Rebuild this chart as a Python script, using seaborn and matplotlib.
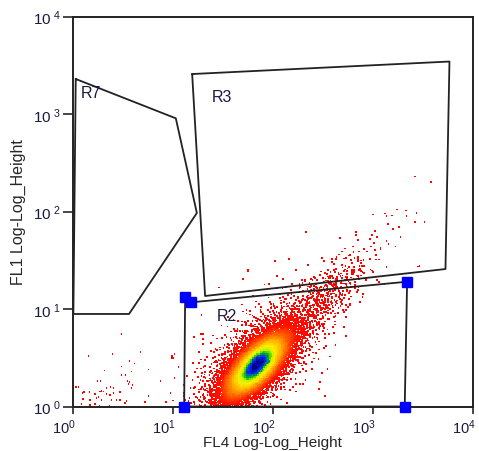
import numpy as np
import pandas as pd
import matplotlib
matplotlib.use("Agg")
import matplotlib.pyplot as plt
from matplotlib.colors import LinearSegmentedColormap
from matplotlib.ticker import LogLocator, NullLocator, FuncFormatter
from matplotlib.transforms import ScaledTranslation
import seaborn as sns

# ---- Event populations (positions in decades, log10 of channel height) ----
pop_fl4_center = [1.84, 1.86, 2.50]
pop_fl1_center = [0.42, 0.50, 1.10]
pop_sd_major = [0.27, 0.42, 0.30]
pop_sd_minor = [0.11, 0.20, 0.11]
pop_angle_deg = [47, 45, 40]
pop_events = [6500, 1400, 420]

# ---- Isolated events (decades) ----
sparse_fl4 = [0.49, 0.16, 0.40, 0.68, 0.99, 1.00, 0.49, 0.57, 0.62, 0.32, 0.76, 0.59,
              0.53, 0.49, 0.25, 0.28, 0.55, 0.57, 0.60, 0.56, 0.88, 0.035, 0.06, 0.34,
              0.38, 0.41, 0.59, 0.115, 0.10, 0.275, 0.29, 0.31, 0.17, 0.225, 0.34, 0.41,
              0.475, 0.26, 0.375, 0.108, 0.175, 0.24, 0.29, 0.39, 0.44, 0.475, 0.54, 0.725,
              0.76, 0.935, 0.09, 0.225, 0.175, 0.27, 0.37, 0.525, 0.99, 1.30, 1.305,
              2.525, 2.275,
              3.42, 3.58, 3.24, 3.33, 3.435, 3.00, 3.12, 3.135, 3.19, 3.335, 3.42, 3.515,
              3.15, 3.26, 3.20, 3.025, 2.83, 2.335, 2.835, 2.99, 3.275, 2.67, 3.04, 2.975,
              2.85, 3.135, 3.015, 2.98, 2.80, 2.72, 3.075, 3.225, 2.91, 2.86, 2.94, 2.775,
              3.03, 2.495, 2.16, 2.59, 2.735, 2.85, 2.88, 2.975, 2.66, 2.79, 2.61, 2.69,
              2.76, 3.135, 3.45, 2.635, 2.71, 2.81, 2.54, 2.85, 2.64, 2.575, 2.475, 2.325,
              2.41, 2.74, 2.875, 2.77, 2.02, 1.75, 1.70, 1.46, 1.75, 3.465, 2.87]
sparse_fl1 = [0.74, 0.52, 0.54, 0.56, 0.52, 0.50, 0.41, 0.47, 0.44, 0.37, 0.38, 0.36,
              0.32, 0.32, 0.26, 0.26, 0.26, 0.25, 0.22, 0.23, 0.26, 0.20, 0.20, 0.19,
              0.20, 0.19, 0.19, 0.145, 0.135, 0.155, 0.16, 0.155, 0.145, 0.128, 0.128, 0.135,
              0.145, 0.094, 0.118, 0.077, 0.07, 0.084, 0.07, 0.067, 0.07, 0.067, 0.06, 0.05,
              0.11, 0.05, 0.026, 0.026, 0.015, 0.008, 0.002, 0.036, 0.50, 0.69, 0.74,
              0.11, 0.23,
              2.36, 2.30, 2.02, 2.01, 1.985, 1.97, 1.98, 1.95, 1.96, 1.95, 1.89, 1.89,
              1.87, 1.84, 1.82, 1.80, 1.79, 1.79, 1.76, 1.76, 1.74, 1.725, 1.735, 1.72,
              1.71, 1.695, 1.675, 1.64, 1.64, 1.62, 1.615, 1.64, 1.615, 1.59, 1.59, 1.555,
              1.555, 1.52, 1.51, 1.51, 1.52, 1.51, 1.47, 1.51, 1.56, 1.47, 1.46, 1.45,
              1.43, 1.43, 1.435, 1.41, 1.39, 1.38, 1.36, 1.34, 1.325, 1.335, 1.35, 1.30,
              1.325, 1.31, 1.075, 1.04, 1.49, 1.40, 1.31, 1.22, 1.39, 1.44, 1.41]

# ---- Gate regions (channel units) ----
r7_fl4 = [1.077, 10.76, 17.46, 3.67, 1.02]
r7_fl1 = [2286, 903, 96.5, 8.89, 8.89]
r3_fl4 = [15.67, 5821, 5309, 21.1]
r3_fl1 = [2570, 3453, 25.7, 13.6]
r2_fl4 = [13.03, 13.34, 15.2, 2198, 2080]
r2_fl1 = [1.0, 13.2, 11.7, 19.05, 1.0]
gate_names = ["R7", "R3", "R2"]
gate_label_fl4 = [1.52, 31.3, 34.8]
gate_label_fl1 = [1675, 1514, 8.67]

# axis decades
x_limits = (1, 1e4)
y_limits = (1, 1e4)


def halton(n, base):
    seq = np.empty(n)
    for i in range(n):
        f, r, k = 1.0, 0.0, i + 1
        while k > 0:
            f /= base
            r += f * (k % base)
            k //= base
        seq[i] = r
    return seq


def population(cx, cy, sd_a, sd_b, ang, n, b1, b2):
    u1 = halton(n, b1)
    u2 = halton(n, b2)
    rad = np.sqrt(-2.0 * np.log(1.0 - u1))
    th = 2 * np.pi * u2
    a = rad * np.cos(th) * sd_a
    b = rad * np.sin(th) * sd_b
    t = np.deg2rad(ang)
    return cx + a * np.cos(t) - b * np.sin(t), cy + a * np.sin(t) + b * np.cos(t)


bases = [(2, 3), (5, 7), (11, 13)]
lx_parts, ly_parts = [], []
for i in range(len(pop_events)):
    px, py = population(pop_fl4_center[i], pop_fl1_center[i], pop_sd_major[i],
                        pop_sd_minor[i], pop_angle_deg[i], pop_events[i], *bases[i])
    lx_parts.append(px)
    ly_parts.append(py)
lx_parts.append(np.array(sparse_fl4))
ly_parts.append(np.array(sparse_fl1))
lx = np.concatenate(lx_parts)
ly = np.concatenate(ly_parts)

# local event density on a fine grid, smoothed with a small box kernel
bw = 0.02
edges = np.arange(-0.5, 4.5 + bw, bw)
H, _, _ = np.histogram2d(lx, ly, bins=[edges, edges])
k = 5
kern = np.ones(k) / k
H = np.apply_along_axis(lambda v: np.convolve(v, kern, mode="same"), 0, H)
H = np.apply_along_axis(lambda v: np.convolve(v, kern, mode="same"), 1, H)
ix = np.clip(((lx - edges[0]) / bw).astype(int), 0, H.shape[0] - 1)
iy = np.clip(((ly - edges[0]) / bw).astype(int), 0, H.shape[1] - 1)
dens = H[ix, iy]
dens = dens / dens.max()

df = pd.DataFrame({"FL4": 10 ** lx, "FL1": 10 ** ly, "density": np.clip(dens, 0, 1)})
df = df.sort_values("density")

cmap = LinearSegmentedColormap.from_list(
    "events",
    [(0.0, "#ff0000"), (0.2, "#ff1000"), (0.36, "#ff6000"), (0.54, "#ffb000"),
     (0.7, "#ffee00"), (0.8, "#c0f000"), (0.87, "#00c000"), (0.92, "#0040ff"),
     (1.0, "#000090")])

sns.set_style("white")
plt.rcParams["font.family"] = ["Liberation Sans", "DejaVu Sans"]
plt.rcParams["mathtext.fontset"] = "custom"
plt.rcParams["mathtext.rm"] = "Liberation Sans"
plt.rcParams["mathtext.it"] = "Liberation Sans:italic"
plt.rcParams["mathtext.bf"] = "Liberation Sans:bold"

fig = plt.figure(figsize=(4.79, 4.52), dpi=100)
ax = fig.add_axes([72.5 / 479, 1 - 407.5 / 452, 400.5 / 479, 390 / 452])

sns.scatterplot(data=df, x="FL4", y="FL1", hue="density", palette=cmap,
                hue_norm=(0, 1), legend=False, marker="s", s=1.6,
                linewidth=0, ax=ax)

ax.set_xscale("log")
ax.set_yscale("log")
ax.set_xlim(*x_limits)
ax.set_ylim(*y_limits)

gate_color = "#222222"
for gx, gy in [(r7_fl4, r7_fl1), (r3_fl4, r3_fl1), (r2_fl4, r2_fl1)]:
    ax.plot(gx + gx[:1], gy + gy[:1], color=gate_color, lw=1.3, zorder=4,
            clip_on=False)
ax.plot(r2_fl4, r2_fl1, linestyle="none", marker="s", markersize=6.5,
        color="#0000ff", zorder=5, clip_on=False)

for name, gx, gy in zip(gate_names, gate_label_fl4, gate_label_fl1):
    ax.text(gx, gy, name, ha="center", va="center", fontsize=11.5,
            color="#1a1a40", zorder=6)

ax.xaxis.set_major_locator(LogLocator(base=10, numticks=10))
ax.yaxis.set_major_locator(LogLocator(base=10, numticks=10))
ax.xaxis.set_minor_locator(NullLocator())
ax.yaxis.set_minor_locator(NullLocator())
ax.xaxis.set_major_formatter(FuncFormatter(lambda v, p: r"$10^{%d}$" % round(np.log10(v))))
ax.yaxis.set_major_formatter(FuncFormatter(lambda v, p: r"$10^{\ %d}$" % round(np.log10(v))))
ax.tick_params(axis="x", direction="out", length=5, width=1.2, pad=2.5,
               labelsize=10.5, bottom=True, labelcolor="#1a1a40")
ax.tick_params(axis="y", direction="out", length=7, width=1.2, pad=1.5,
               labelsize=11, left=True, labelcolor="#1a1a40")
for sp in ax.spines.values():
    sp.set_color("#222222")
    sp.set_linewidth(1.4)

ax.set_xlabel("FL4 Log-Log_Height", fontsize=11, labelpad=-0.5)
ax.set_ylabel("FL1 Log-Log_Height", fontsize=11.5, labelpad=5)

fig.canvas.draw()
shift = ScaledTranslation(3 / 100, 0, fig.dpi_scale_trans)
for lab in ax.get_xticklabels():
    lab.set_horizontalalignment("right")
    lab.set_transform(lab.get_transform() + shift)

fig.savefig("out.png", dpi=100)
